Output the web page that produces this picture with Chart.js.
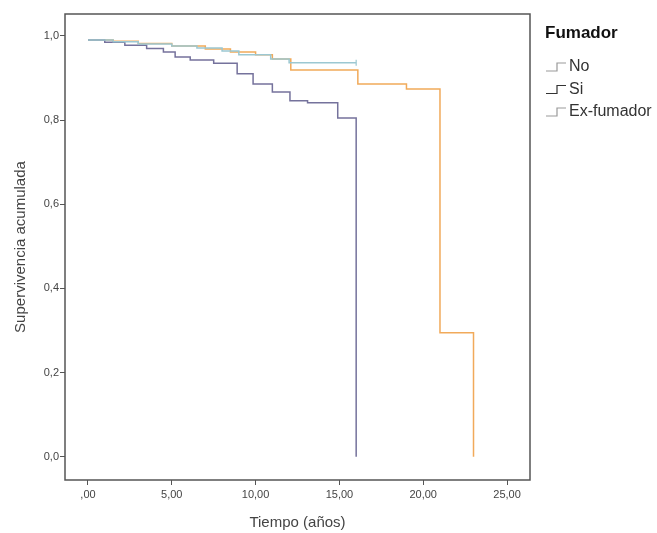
<!DOCTYPE html>
<html>
<head>
<meta charset="utf-8">
<script src="https://cdn.jsdelivr.net/npm/chart.js@4"></script>
<style>
  html, body { margin: 0; padding: 0; background: #fff; }
  #wrap { width: 657px; height: 533px; }
</style>
</head>
<body>
<div id="wrap"><canvas id="kmChart" width="657" height="533"></canvas></div>
<script>
// Kaplan-Meier curves (time in years, cumulative survival)
const noTime = [0, 1.5, 3, 5, 6.5, 8, 9, 10.9, 12.0, 16.0];
const noSurv = [0.99, 0.986, 0.981, 0.976, 0.971, 0.964, 0.955, 0.945, 0.936, 0.936];

const siTime = [0, 1, 2.2, 3.5, 4.5, 5.2, 6.1, 7.5, 8.9, 9.85, 11.0, 12.05, 13.1, 14.9, 16.0];
const siSurv = [0.99, 0.985, 0.978, 0.97, 0.962, 0.95, 0.943, 0.935, 0.91, 0.886, 0.867, 0.846, 0.841, 0.805, 0];

const exTime = [0, 1.5, 3, 5, 7, 8.5, 10, 11, 12.1, 16.1, 19.0, 21.0, 23.0];
const exSurv = [0.99, 0.987, 0.982, 0.976, 0.969, 0.962, 0.955, 0.945, 0.919, 0.886, 0.874, 0.295, 0];

const groups = ["No", "Si", "Ex-fumador"];
const groupColors = ["#9cc8d2", "#75729c", "#f1aa5a"];

const xTicks = [0, 5, 10, 15, 20, 25];
const xTickLabels = [",00", "5,00", "10,00", "15,00", "20,00", "25,00"];
const yTicks = [0, 0.2, 0.4, 0.6, 0.8, 1.0];
const yTickLabels = ["0,0", "0,2", "0,4", "0,6", "0,8", "1,0"];

const pts = (t, s) => t.map((v, i) => ({ x: v, y: s[i] }));

// box round the plot area
const framePlugin = {
  id: 'frame',
  afterDraw(chart) {
    const { ctx, chartArea: a } = chart;
    ctx.save();
    ctx.strokeStyle = '#555';
    ctx.lineWidth = 1.5;
    ctx.strokeRect(a.left, a.top, a.right - a.left, a.bottom - a.top);
    ctx.restore();
  }
};

// SPSS-like legend with the little step glyph
const stepLegend = {
  id: 'stepLegend',
  afterDraw(chart) {
    const ctx = chart.ctx;
    const x0 = chart.chartArea.right + 14;
    ctx.save();
    ctx.fillStyle = '#111';
    ctx.font = 'bold 17px "Liberation Sans", Arial, sans-serif';
    ctx.textBaseline = 'middle';
    ctx.fillText('Fumador', x0 + 1, 33);
    ctx.font = '16px "Liberation Sans", Arial, sans-serif';
    chart.data.datasets.forEach((ds, i) => {
      const y = 67 + i * 22.5;
      ctx.strokeStyle = i === 1 ? '#333' : '#999';
      ctx.lineWidth = 1.2;
      ctx.beginPath();
      ctx.moveTo(x0 + 2, y + 4);
      ctx.lineTo(x0 + 13, y + 4);
      ctx.lineTo(x0 + 13, y - 4);
      ctx.lineTo(x0 + 22, y - 4);
      ctx.stroke();
      ctx.fillStyle = '#333';
      ctx.fillText(ds.label, x0 + 25, y);
    });
    ctx.restore();
  }
};

const series = [pts(noTime, noSurv), pts(siTime, siSurv), pts(exTime, exSurv)];

new Chart(document.getElementById('kmChart'), {
  type: 'line',
  data: {
    datasets: groups.map((g, i) => ({
      label: g,
      data: series[i],
      stepped: 'before',
      borderColor: groupColors[i],
      borderWidth: 1.5,
      fill: false,
      pointStyle: 'line',
      rotation: 90,
      pointBorderColor: groupColors[i],
      pointBorderWidth: 1.2,
      // censor tick only on the last "No" point
      pointRadius: series[i].map((p, j) => (i === 0 && j === series[i].length - 1) ? 3 : 0)
    }))
  },
  options: {
    responsive: false,
    animation: false,
    layout: { padding: { top: 14, right: 127, left: 0, bottom: 0 } },
    plugins: {
      legend: { display: false },
      tooltip: { enabled: false }
    },
    scales: {
      x: {
        type: 'linear',
        min: -1.37,
        max: 26.37,
        afterBuildTicks: s => { s.ticks = xTicks.map(v => ({ value: v })); },
        afterFit: s => { s.height = 53; },
        grid: { display: true, drawOnChartArea: false, drawTicks: true, tickLength: 5, color: '#555' },
        border: { display: false },
        ticks: {
          color: '#444',
          padding: 3,
          maxRotation: 0,
          font: { size: 11, family: '"Liberation Sans", Arial, sans-serif' },
          callback: (v, i) => xTickLabels[i]
        },
        title: {
          display: true,
          text: 'Tiempo (años)',
          color: '#444',
          padding: { top: 0, bottom: 1 },
          font: { size: 15, family: '"Liberation Sans", Arial, sans-serif' }
        }
      },
      y: {
        min: -0.055,
        max: 1.052,
        afterBuildTicks: s => { s.ticks = yTicks.map(v => ({ value: v })); },
        afterFit: s => { s.width = 65; },
        grid: { display: true, drawOnChartArea: false, drawTicks: true, tickLength: 5, color: '#555' },
        border: { display: false },
        ticks: {
          color: '#444',
          padding: 1,
          font: { size: 11, family: '"Liberation Sans", Arial, sans-serif' },
          callback: (v, i) => yTickLabels[i]
        },
        title: {
          display: true,
          text: 'Supervivencia acumulada',
          color: '#444',
          padding: { top: 12, bottom: 0 },
          font: { size: 15, family: '"Liberation Sans", Arial, sans-serif' }
        }
      }
    }
  },
  plugins: [framePlugin, stepLegend]
});
</script>
</body>
</html>
